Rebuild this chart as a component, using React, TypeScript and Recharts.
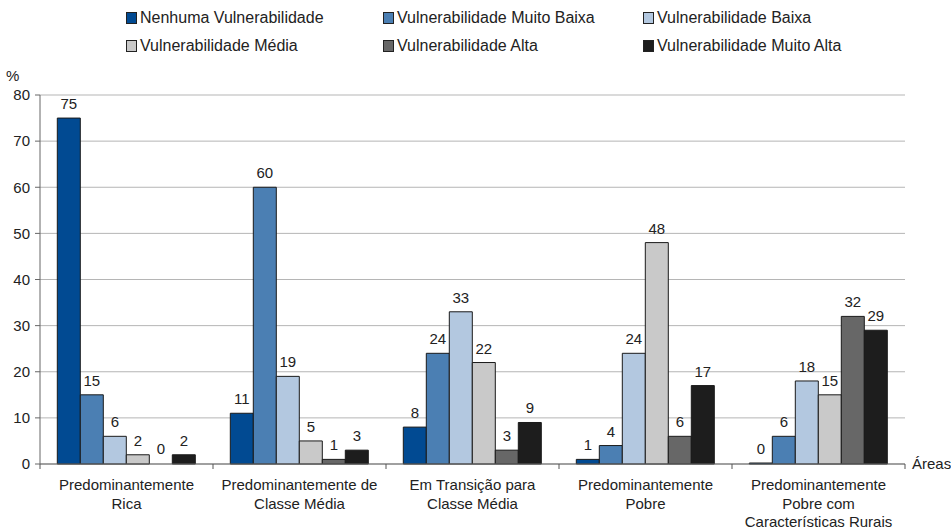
import { BarChart, Bar, XAxis, YAxis, CartesianGrid, LabelList, Rectangle } from 'recharts';

const areas = [
  'Predominantemente\nRica',
  'Predominantemente de\nClasse Média',
  'Em Transição para\nClasse Média',
  'Predominantemente\nPobre',
  'Predominantemente\nPobre com\nCaracterísticas Rurais',
];

const nenhuma = [75, 11, 8, 1, 0];
const muitoBaixa = [15, 60, 24, 4, 6];
const baixa = [6, 19, 33, 24, 18];
const media = [2, 5, 22, 48, 15];
const alta = [0, 1, 3, 6, 32];
const muitoAlta = [2, 3, 9, 17, 29];

const yTicks = [0, 10, 20, 30, 40, 50, 60, 70, 80];

const series = [
  { key: 'nenhuma', name: 'Nenhuma Vulnerabilidade', color: '#014a92', values: nenhuma },
  { key: 'muitoBaixa', name: 'Vulnerabilidade Muito Baixa', color: '#4b7fb3', values: muitoBaixa },
  { key: 'baixa', name: 'Vulnerabilidade Baixa', color: '#b3c8e0', values: baixa },
  { key: 'media', name: 'Vulnerabilidade Média', color: '#c9c9c9', values: media },
  { key: 'alta', name: 'Vulnerabilidade Alta', color: '#676767', values: alta },
  { key: 'muitoAlta', name: 'Vulnerabilidade Muito Alta', color: '#1d1d1d', values: muitoAlta },
];

const data = areas.map((area, i) => {
  const row: Record<string, string | number> = { area };
  series.forEach((s) => {
    row[s.key] = s.values[i];
  });
  return row;
});

const FONT = '"Liberation Sans", Arial, Helvetica, sans-serif';
const WIDTH = 951;
const HEIGHT = 529;
const X_AXIS_HEIGHT = 30;
const MARGIN = { top: 95, right: 46, bottom: 65 - X_AXIS_HEIGHT, left: 0 };
const Y_AXIS_WIDTH = 40;
const BAND = (WIDTH - MARGIN.left - MARGIN.right - Y_AXIS_WIDTH) / areas.length;

// legend laid out in two rows of three
const legendCols = [126, 383, 643];
const legendRows = [18, 46];

const AreaTick = (props: any) => {
  const { x, y, payload, index } = props;
  const lines = String(payload.value).split('\n');
  return (
    <g>
      <line x1={x + BAND / 2} x2={x + BAND / 2} y1={y - 8} y2={y - 3} stroke="#555" />
      {index === 0 && (
        <line x1={x - BAND / 2} x2={x - BAND / 2} y1={y - 8} y2={y - 3} stroke="#555" />
      )}
      <text x={x} y={y + 18} textAnchor="middle" fontSize={15} fill="#222" fontFamily={FONT}>
        {lines.map((l, i) => (
          <tspan key={i} x={x} dy={i === 0 ? 0 : 18.5}>
            {l}
          </tspan>
        ))}
      </text>
    </g>
  );
};

const ValueLabel = (p: any) => (
  <text
    x={p.x + p.width / 2}
    y={p.y - 9}
    textAnchor="middle"
    fontSize={15}
    fill="#222"
    fontFamily={FONT}
  >
    {p.value}
  </text>
);

// zero values keep a 1px slot so their label is placed; only the dark blue one is drawn
const barShape = (key: string) => (p: any) =>
  p.payload[key] > 0 || key === 'nenhuma' ? <Rectangle {...p} /> : <g />;

export default function App() {
  return (
    <div style={{ position: 'absolute', left: 0, top: 0, width: WIDTH, height: HEIGHT, background: '#fff', fontFamily: FONT }}>
      {series.map((s, i) => (
        <div
          key={s.key}
          style={{
            position: 'absolute',
            left: legendCols[i % 3],
            top: legendRows[Math.floor(i / 3)] - 9,
            display: 'flex',
            alignItems: 'center',
            fontSize: 16,
            color: '#222',
            whiteSpace: 'nowrap',
            lineHeight: '18px',
          }}
        >
          <span
            style={{
              display: 'inline-block',
              width: 9,
              height: 10,
              background: s.color,
              border: '1px solid #222',
              marginRight: 3,
            }}
          />
          {s.name}
        </div>
      ))}
      <BarChart
        width={WIDTH}
        height={HEIGHT}
        data={data}
        margin={MARGIN}
        barGap={0}
        barCategoryGap="10%"
        style={{ position: 'absolute', left: 0, top: 0 }}
      >
        <CartesianGrid vertical={false} stroke="#b5b5b5" />
        <XAxis
          dataKey="area"
          height={X_AXIS_HEIGHT}
          interval={0}
          axisLine={{ stroke: '#666' }}
          tickLine={false}
          tick={<AreaTick />}
          label={{
            content: (p: any) => (
              <text
                x={p.viewBox.x + p.viewBox.width + 7}
                y={p.viewBox.y + 5}
                fontSize={15}
                fill="#222"
                fontFamily={FONT}
              >
                Áreas
              </text>
            ),
          }}
        />
        <YAxis
          width={Y_AXIS_WIDTH}
          domain={[0, 80]}
          ticks={yTicks}
          interval={0}
          axisLine={{ stroke: '#666' }}
          tickLine={{ stroke: '#666' }}
          tickSize={5}
          tickMargin={5}
          tick={{ fontSize: 15, fill: '#222', fontFamily: FONT }}
          label={{
            content: (p: any) => (
              <text
                x={p.viewBox.x + 6}
                y={p.viewBox.y - 14}
                fontSize={15}
                fill="#222"
                fontFamily={FONT}
              >
                %
              </text>
            ),
          }}
        />
        {series.map((s) => (
          <Bar
            key={s.key}
            dataKey={s.key}
            name={s.name}
            fill={s.color}
            stroke="#1a1a1a"
            strokeWidth={1}
            minPointSize={1}
            shape={barShape(s.key)}
            isAnimationActive={false}
          >
            <LabelList dataKey={s.key} content={<ValueLabel />} />
          </Bar>
        ))}
      </BarChart>
    </div>
  );
}
